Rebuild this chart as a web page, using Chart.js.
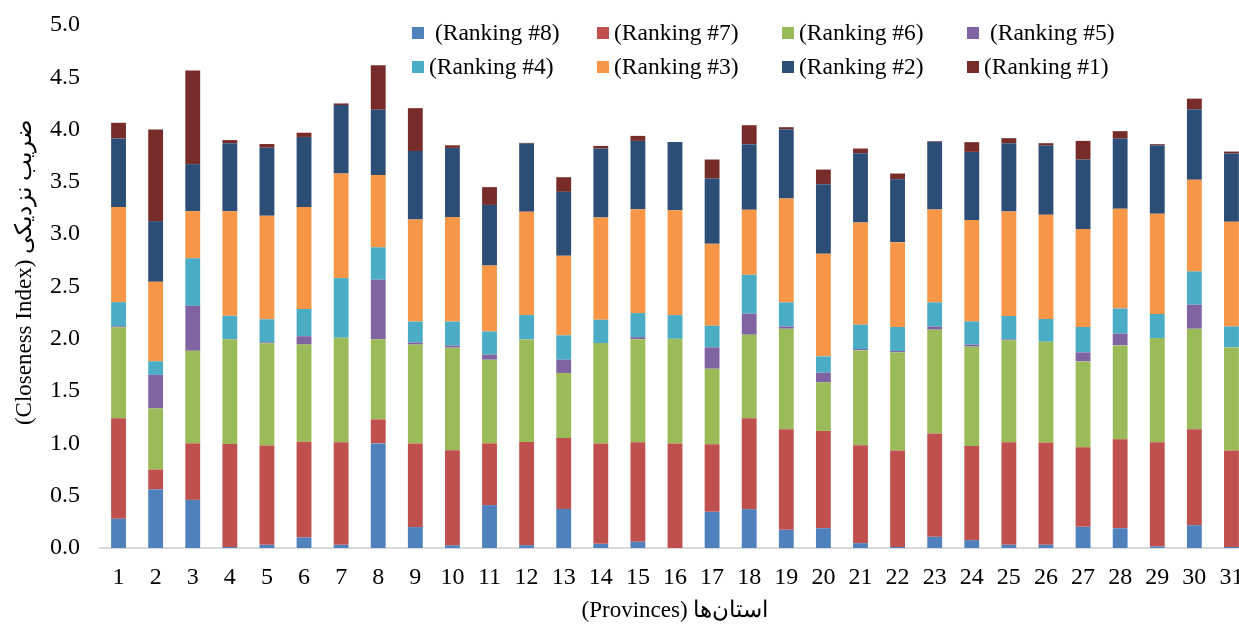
<!DOCTYPE html>
<html>
<head>
<meta charset="utf-8">
<script src="https://cdn.jsdelivr.net/npm/chart.js@4.4.0/dist/chart.umd.min.js"></script>
<style>
html,body{margin:0;padding:0;background:#fff;overflow:hidden;width:1239px;height:626px;}
#wrap{position:absolute;left:0;top:0;width:1262px;height:626px;}
</style>
</head>
<body>
<div id="wrap"><canvas id="c" width="1262" height="626"></canvas></div>
<script>
const provinces = ['1','2','3','4','5','6','7','8','9','10','11','12','13','14','15','16','17','18','19','20','21','22','23','24','25','26','27','28','29','30','31'];
const yTicks = [0,0.5,1,1.5,2,2.5,3,3.5,4,4.5,5];

const rank8 = [0.28,0.56,0.46,0.01,0.03,0.10,0.03,1.00,0.20,0.025,0.41,0.027,0.374,0.04,0.06,0,0.346,0.371,0.174,0.189,0.046,0.01,0.107,0.075,0.031,0.031,0.202,0.189,0.014,0.218,0.01];
const rank7 = [0.96,0.19,0.54,0.985,0.95,0.915,0.98,0.23,0.80,0.91,0.59,0.987,0.678,0.958,0.95,1.00,0.645,0.869,0.961,0.93,0.936,0.921,0.987,0.901,0.98,0.977,0.761,0.85,0.997,0.917,0.921];
const rank6 = [0.87,0.585,0.885,1.00,0.977,0.93,1.00,0.765,0.945,0.98,0.80,0.98,0.621,0.962,0.986,1.00,0.723,0.799,0.961,0.465,0.907,0.939,0.993,0.949,0.974,0.964,0.821,0.898,0.997,0.961,0.987];
const rank5 = [0.01,0.32,0.43,0,0.01,0.08,0,0.57,0.02,0.02,0.05,0,0.127,0,0.02,0,0.204,0.201,0.022,0.092,0.013,0.013,0.031,0.019,0.009,0,0.086,0.112,0,0.23,0];
const rank4 = [0.23,0.13,0.455,0.225,0.22,0.26,0.57,0.31,0.20,0.23,0.22,0.233,0.233,0.222,0.23,0.226,0.207,0.372,0.23,0.156,0.233,0.23,0.23,0.222,0.224,0.217,0.243,0.241,0.229,0.318,0.20];
const rank3 = [0.91,0.76,0.45,1.00,0.99,0.975,1.00,0.69,0.975,1.00,0.63,0.987,0.761,0.978,0.993,1.003,0.783,0.621,0.993,0.981,0.977,0.811,0.888,0.969,0.999,0.996,0.936,0.953,0.958,0.876,1.00];
const rank2 = [0.655,0.58,0.45,0.65,0.65,0.67,0.655,0.625,0.655,0.66,0.58,0.652,0.611,0.659,0.653,0.653,0.624,0.628,0.663,0.665,0.662,0.602,0.647,0.652,0.653,0.662,0.665,0.671,0.656,0.675,0.653];
const rank1 = [0.15,0.875,0.895,0.03,0.035,0.04,0.015,0.425,0.41,0.025,0.17,0.007,0.14,0.025,0.048,0,0.182,0.181,0.019,0.14,0.045,0.054,0.006,0.093,0.048,0.023,0.178,0.071,0.01,0.101,0.019];

const seriesLabels = [' (Ranking #8)','(Ranking #7)','(Ranking #6)',' (Ranking #5)','(Ranking #4)','(Ranking #3)','(Ranking #2)','(Ranking #1)'];
const seriesColors = ['#4F81BD','#C0504D','#9BBB59','#8064A2','#4BACC6','#F79646','#2C4D75','#772C2A'];
const seriesData = [rank8,rank7,rank6,rank5,rank4,rank3,rank2,rank1];

const FAMILY = '"Liberation Serif","Times New Roman",Times,serif';

const legendPlugin = {
  id:'gridLegend',
  afterDraw(chart){
    const ctx = chart.ctx;
    const cols = [412,597,782,967];
    const rows = [33,67];
    ctx.save();
    ctx.font = '23.5px ' + FAMILY;
    ctx.textBaseline = 'middle';
    ctx.textAlign = 'left';
    chart.data.datasets.forEach((ds,i)=>{
      const x = cols[i%4], y = rows[Math.floor(i/4)];
      ctx.fillStyle = ds.backgroundColor;
      ctx.fillRect(x, y-6, 12, 12);
      ctx.fillStyle = '#000';
      ctx.fillText(ds.label, x+17, y+1);
    });
    ctx.restore();
  }
};

new Chart(document.getElementById('c'), {
  type:'bar',
  data:{
    labels: provinces,
    datasets: seriesData.map((d,i)=>({
      label: seriesLabels[i],
      data: d,
      backgroundColor: seriesColors[i],
      borderWidth: 0,
      categoryPercentage: 1.0,
      barPercentage: 0.4
    }))
  },
  options:{
    responsive:false,
    animation:false,
    layout:{padding:{top:25,right:12,left:0,bottom:0}},
    plugins:{legend:{display:false}, tooltip:{enabled:false}},
    scales:{
      x:{
        stacked:true,
        grid:{display:false, drawTicks:false},
        border:{display:true, color:'#D9D9D9', width:2},
        ticks:{font:{family:FAMILY,size:24}, color:'#000', padding:15, maxRotation:0, autoSkip:false},
        title:{display:true, text:'(Provinces) استان‌ها', font:{family:FAMILY,size:23}, color:'#000', padding:{top:0,bottom:1}},
        afterFit(s){ s.height = 78; }
      },
      y:{
        stacked:true,
        min:0, max:5,
        afterBuildTicks(s){ s.ticks = yTicks.map(v=>({value:v})); },
        ticks:{font:{family:FAMILY,size:24}, color:'#000', padding:20, callback:v=>Number(v).toFixed(1)},
        grid:{display:false, drawTicks:false},
        border:{display:false},
        title:{display:true, text:'\u00A0\u00A0\u00A0\u00A0\u00A0(Closeness Index) ضریب نزدیکی', font:{family:FAMILY,size:23}, color:'#000', padding:{top:11,bottom:0}},
        afterFit(s){ s.width = 100; s.paddingTop = 0; s.paddingBottom = 0; }
      }
    }
  },
  plugins:[legendPlugin]
});
</script>
</body>
</html>
